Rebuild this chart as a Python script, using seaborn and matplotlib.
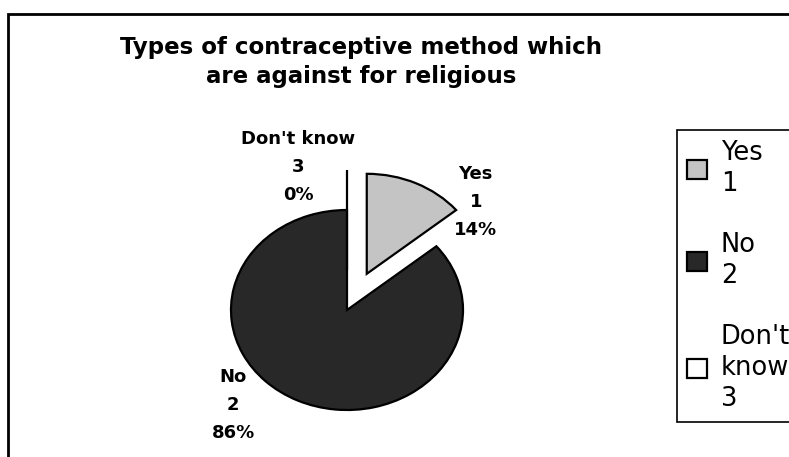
import matplotlib
matplotlib.use('Agg')
import matplotlib.pyplot as plt
import seaborn as sns
from matplotlib.patches import Rectangle

# Data
categories = ["Yes", "No", "Don't know"]
codes = [1, 2, 3]
percents = [14, 86, 0]
legend_labels = ["Yes\n1", "No\n2", "Don't\nknow\n3"]

sns.set_theme(style='white')
plt.rcParams['font.family'] = ['DejaVu Sans']
plt.rcParams['text.color'] = 'black'

W, H = 789, 457
fig = plt.figure(figsize=(W / 100, H / 100), dpi=100)
fig.patch.set_facecolor('white')

# outer chart frame
fig.add_artist(Rectangle((8 / W, -0.05), 1.0, 1 - 14 / H + 0.05, transform=fig.transFigure,
                         fill=False, edgecolor='black', linewidth=2))

# pie axes: centre at (347, 310) px, radii ~116 x 100 px
cx, cy, rx, ry = 347, 310, 116, 100
aw, ah = 300, 270
ax = fig.add_axes([(cx - aw / 2) / W, (H - cy - ah / 2) / H, aw / W, ah / H])
colors = ['#c4c4c4', '#282828', '#ffffff']
wedges, _ = ax.pie(percents, colors=colors, startangle=90, counterclock=False,
                   explode=[0.4, 0, 0.4],
                   wedgeprops=dict(edgecolor='black', linewidth=1.6))
ax.set_aspect('auto')
ax.set_xlim(-aw / 2 / rx, aw / 2 / rx)
ax.set_ylim(-ah / 2 / ry, ah / 2 / ry)
ax.axis('off')

# slice labels
label_pos = {"Yes": (1.11, 1.08), "No": (-0.98, -0.95), "Don't know": (-0.42, 1.43)}
for cat, code, pct in zip(categories, codes, percents):
    x, y = label_pos[cat]
    ax.text(x, y, f"{cat}\n{code}\n{pct}%", ha='center', va='center',
            fontsize=13, fontweight='bold', linespacing=1.7, clip_on=False)

fig.text(361 / W, 1 - 62 / H, "Types of contraceptive method which\nare against for religious",
         ha='center', va='center', fontsize=16.5, fontweight='bold', linespacing=1.3)

leg = fig.legend(wedges, legend_labels, loc='upper left',
                 bbox_to_anchor=(677 / W, 20 / H, 135 / W, (437 - 130) / H), mode='expand',
                 prop={'size': 18.5},
                 frameon=True, fancybox=False, edgecolor='black', framealpha=1,
                 handlelength=0.75, handleheight=0.75, handletextpad=0.55,
                 labelspacing=1.35, borderpad=0.4, borderaxespad=0)
for t in leg.get_texts():
    t.set_linespacing(1.25)
leg.get_frame().set_linewidth(1.2)

fig.savefig('out.png', dpi=100)
